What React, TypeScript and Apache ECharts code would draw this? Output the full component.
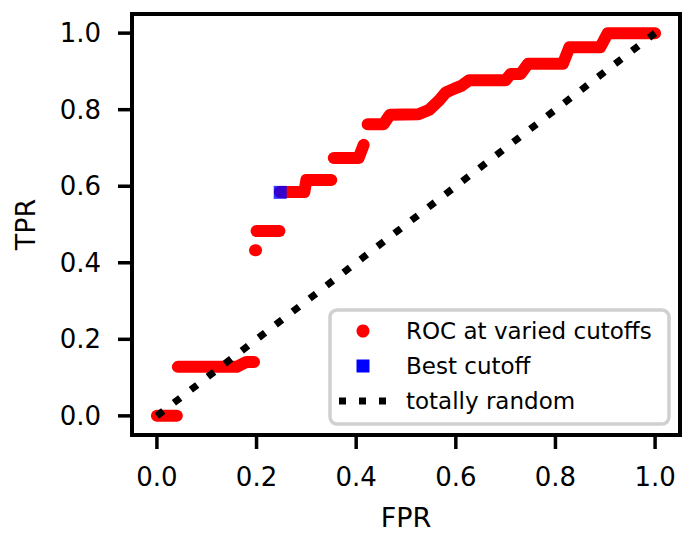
import React, { useEffect, useRef } from "react";
import * as echarts from "echarts";

// ROC curve (null separates visually separate runs of points)
const rocFPR: (number | null)[] = [
  0, 0.04, null,
  0.042, 0.16, 0.18, 0.195, null,
  0.197, 0.199, null,
  0.2, 0.246, null,
  0.247, 0.296, 0.3, 0.35, null,
  0.355, 0.405, 0.415, null,
  0.423, 0.455, 0.468, 0.525, 0.547, 0.567, 0.58, 0.597, 0.611, 0.627, 0.7, 0.71, 0.73, 0.745, 0.815, 0.828, 0.89, 0.905, 1.0,
];
const rocTPR: (number | null)[] = [
  0, 0, null,
  0.128, 0.128, 0.141, 0.141, null,
  0.433, 0.433, null,
  0.483, 0.483, null,
  0.585, 0.585, 0.616, 0.616, null,
  0.674, 0.674, 0.708, null,
  0.762, 0.762, 0.787, 0.788, 0.8, 0.825, 0.845, 0.855, 0.862, 0.877, 0.877, 0.893, 0.893, 0.92, 0.92, 0.963, 0.963, 1.0, 1.0,
];

const bestFPR = [0.2475];
const bestTPR = [0.584];

const randomFPR = [0, 1];
const randomTPR = [0, 1];

const tickValues = [0, 0.2, 0.4, 0.6, 0.8, 1.0];
const tickLabels = ["0.0", "0.2", "0.4", "0.6", "0.8", "1.0"];

const legendLabels = ["ROC at varied cutoffs", "Best cutoff", "totally random"];

const FONT = "DejaVu Sans";
const AXIS_MIN = -0.05;
const AXIS_MAX = 1.05;

function buildRuns(xs: (number | null)[], ys: (number | null)[]) {
  const runs: number[][][] = [];
  let cur: number[][] = [];
  for (let i = 0; i < xs.length; i++) {
    const x = xs[i];
    const y = ys[i];
    if (x === null || y === null) {
      if (cur.length) runs.push(cur);
      cur = [];
    } else {
      cur.push([x, y]);
    }
  }
  if (cur.length) runs.push(cur);
  return runs;
}

function fmtTick(v: number) {
  const i = Math.round(v / 0.2);
  return tickLabels[i] ?? "";
}

export default function App() {
  const ref = useRef<HTMLDivElement>(null);
  useEffect(() => {
    if (!ref.current) return;
    const chart = echarts.init(ref.current, undefined, { renderer: "svg" });
    const runs = buildRuns(rocFPR, rocTPR);
    const rocSeries = runs.map((run) => ({
      type: "line",
      data: run,
      xAxisIndex: 0,
      yAxisIndex: 0,
      showSymbol: false,
      symbol: "none",
      silent: true,
      z: 2,
      lineStyle: { color: "#ff0000", width: 12, cap: "round", join: "round" },
    }));

    // outer frame grid (data range with matplotlib's 5% margins)
    const L = 132, T = 14, R = 2, B = 98;
    const W = 682 - L - R;
    const H = 533 - T - B;
    const padX = (0.05 * W) / 1.1;
    const padY = (0.05 * H) / 1.1;
    const TICK_LEN = 14;
    const TICK_W = 3.5;

    // tick positions follow the same linear axis mapping as the frame grid
    const xPix = (v: number) => L + ((v - AXIS_MIN) / (AXIS_MAX - AXIS_MIN)) * W;
    const yPix = (v: number) => T + H - ((v - AXIS_MIN) / (AXIS_MAX - AXIS_MIN)) * H;
    const tickGraphics: any[] = [];
    tickValues.forEach((v) => {
      tickGraphics.push({
        type: "rect",
        shape: { x: xPix(v) - TICK_W / 2, y: T + H, width: TICK_W, height: TICK_LEN },
        style: { fill: "#000" },
        z: 20,
      });
      tickGraphics.push({
        type: "rect",
        shape: { x: L - TICK_LEN, y: yPix(v) - TICK_W / 2, width: TICK_LEN, height: TICK_W },
        style: { fill: "#000" },
        z: 20,
      });
    });

    const labelStyle = { fontFamily: FONT, fontSize: 26, color: "#000" };
    const nameStyle = { fontFamily: FONT, fontSize: 27, color: "#000" };
    const hidden = { type: "value", min: 0, max: 1, show: false, splitLine: { show: false } };
    const gridBase = { outerBoundsMode: "none", containLabel: false };

    chart.setOption({
      animation: false,
      backgroundColor: "#fff",
      grid: [
        { ...gridBase, left: L, top: T, right: R, bottom: B, show: true, borderColor: "#000", borderWidth: 4 },
        { ...gridBase, left: L + padX, right: R + padX, top: T, bottom: B, show: false },
        { ...gridBase, left: L, right: R, top: T + padY, bottom: B + padY, show: false },
      ],
      xAxis: [
        { type: "value", gridIndex: 0, min: AXIS_MIN, max: AXIS_MAX, show: false, splitLine: { show: false } },
        {
          type: "value", gridIndex: 1, min: 0, max: 1, interval: 0.2,
          position: "bottom",
          splitLine: { show: false },
          axisLine: { show: false, onZero: false },
          axisTick: { show: false },
          axisLabel: { ...labelStyle, formatter: fmtTick, margin: 29 },
          name: "FPR", nameLocation: "middle", nameGap: 69, nameMoveOverlap: false,
          nameTextStyle: nameStyle,
        },
        { ...hidden, gridIndex: 2 },
      ],
      yAxis: [
        { type: "value", gridIndex: 0, min: AXIS_MIN, max: AXIS_MAX, show: false, splitLine: { show: false } },
        { ...hidden, gridIndex: 1 },
        {
          type: "value", gridIndex: 2, min: 0, max: 1, interval: 0.2,
          position: "left",
          splitLine: { show: false },
          axisLine: { show: false, onZero: false },
          axisTick: { show: false },
          axisLabel: { ...labelStyle, formatter: fmtTick, margin: 31 },
          name: "TPR", nameLocation: "middle", nameGap: 93, nameMoveOverlap: false,
          nameTextStyle: nameStyle,
        },
      ],
      series: [
        ...rocSeries,
        {
          type: "scatter",
          xAxisIndex: 0, yAxisIndex: 0,
          data: bestFPR.map((x, i) => [x, bestTPR[i]]),
          symbol: "rect",
          symbolSize: 13,
          z: 3,
          silent: true,
          itemStyle: { color: "#0000ff" },
        },
        {
          type: "line",
          xAxisIndex: 0, yAxisIndex: 0,
          data: randomFPR.map((x, i) => [x, randomTPR[i]]),
          showSymbol: false,
          symbol: "none",
          silent: true,
          z: 4,
          lineStyle: { color: "#000", width: 7, type: [8, 13.4], cap: "butt" },
        },
      ],
      graphic: [
        ...tickGraphics,
        {
          type: "rect",
          shape: { x: 330, y: 310, width: 339, height: 114, r: 7 },
          style: { fill: "rgba(255,255,255,0.8)", stroke: "#d0d0d0", lineWidth: 3.5 },
          z: 10,
        },
        {
          type: "circle",
          shape: { cx: 363, cy: 331, r: 6.5 },
          style: { fill: "#ff0000" },
          z: 11,
        },
        {
          type: "rect",
          shape: { x: 356.5, y: 359.5, width: 13, height: 13 },
          style: { fill: "#0000ff" },
          z: 11,
        },
        {
          type: "line",
          shape: { x1: 339, y1: 401, x2: 387, y2: 401 },
          style: { stroke: "#000", lineWidth: 7, lineDash: [7, 13] },
          z: 11,
        },
        ...legendLabels.map((t, i) => ({
          type: "text",
          x: 406,
          y: [331, 366, 401][i],
          style: {
            text: t,
            fontFamily: FONT,
            fontSize: 23,
            fill: "#000",
            verticalAlign: "middle",
            align: "left",
          },
          z: 11,
        })),
      ],
    } as any);

    return () => chart.dispose();
  }, []);
  return (
    <div
      ref={ref}
      style={{ position: "fixed", left: 0, top: 0, width: 682, height: 533, background: "#fff" }}
    />
  );
}
